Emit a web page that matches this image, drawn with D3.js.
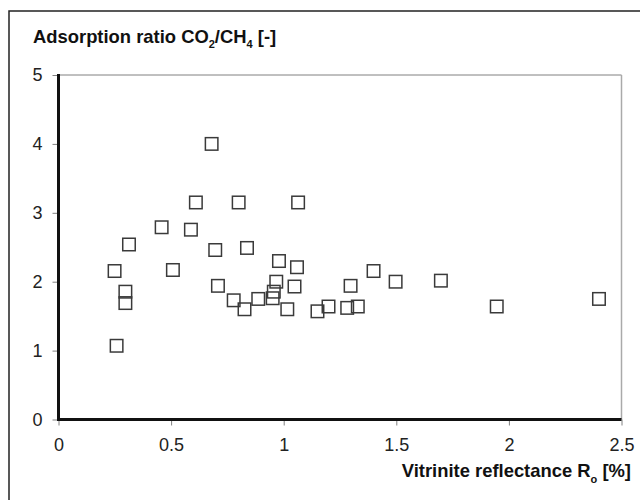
<!DOCTYPE html>
<html><head><meta charset="utf-8">
<script src="https://cdn.jsdelivr.net/npm/d3@7"></script>
<style>body{margin:0;background:#fff}svg{display:block}</style>
</head><body>
<svg id="c" width="640" height="500"></svg>
<script>
const reflectance = [0.68,0.61,0.80,1.064,0.458,0.588,0.313,0.696,0.837,0.979,1.059,0.249,0.508,0.708,0.967,1.048,0.297,0.297,0.778,0.826,0.887,0.956,0.951,1.016,1.150,1.199,0.258,1.399,1.297,1.497,1.282,1.329,1.698,1.946,2.40];
const ratio =       [4.0,3.15,3.15,3.15,2.79,2.755,2.54,2.46,2.49,2.30,2.21,2.155,2.17,1.94,2.0,1.93,1.855,1.69,1.73,1.60,1.75,1.855,1.76,1.60,1.57,1.64,1.07,2.155,1.94,2.0,1.62,1.64,2.015,1.64,1.75];
const xTicks = [0,0.5,1,1.5,2,2.5];
const yTicks = [0,1,2,3,4,5];

const svg = d3.select("#c");
const font = "'Liberation Sans', Arial, sans-serif";
const x = d3.scaleLinear().domain([0,2.5]).range([58.5,621.5]);
const y = d3.scaleLinear().domain([0,5]).range([419.5,75]);

// outer frame
svg.append("rect").attr("x",9).attr("y",11).attr("width",700).attr("height",600)
  .attr("fill","none").attr("stroke","#222").attr("stroke-width",1.5);

// plot area top/right borders
svg.append("line").attr("x1",x(0)).attr("x2",x(2.5)).attr("y1",y(5)).attr("y2",y(5)).attr("stroke","#808080").attr("stroke-width",1);
svg.append("line").attr("x1",x(2.5)).attr("x2",x(2.5)).attr("y1",y(5)).attr("y2",y(0)).attr("stroke","#aaa").attr("stroke-width",1.5);

// axes
const fmt = d3.format("");
const xAxis = svg.append("g").attr("transform",`translate(0,${y(0)})`)
  .call(d3.axisBottom(x).tickValues(xTicks).tickFormat(fmt).tickSizeOuter(0).tickSize(6).tickPadding(13));
const yAxis = svg.append("g").attr("transform",`translate(${x(0)},0)`)
  .call(d3.axisLeft(y).tickValues(yTicks).tickFormat(fmt).tickSizeOuter(0).tickSize(6).tickPadding(10));
[xAxis,yAxis].forEach(g=>{
  g.select(".domain").remove();
  g.selectAll(".tick line").attr("stroke","#808080").attr("stroke-width",1);
  g.selectAll("text").attr("font-family",font).attr("font-size",18).attr("fill","#222");
});
svg.append("line").attr("x1",x(0)).attr("x2",x(0)).attr("y1",y(5)-1).attr("y2",y(0)+1.5).attr("stroke","#111").attr("stroke-width",3);
svg.append("line").attr("x1",x(0)-1.5).attr("x2",x(2.5)).attr("y1",y(0)).attr("y2",y(0)).attr("stroke","#111").attr("stroke-width",3);

// points
const s = 12.5;
svg.append("g").selectAll("rect").data(reflectance.map((r,i)=>[r,ratio[i]])).join("rect")
  .attr("x",d=>x(d[0])-s/2).attr("y",d=>y(d[1])-s/2).attr("width",s).attr("height",s)
  .attr("fill","none").attr("stroke","#3a3a3a").attr("stroke-width",1.5);

// title
const fs = 18.4, ss = 11;
const t = svg.append("text").attr("x",33).attr("y",43).attr("font-family",font).attr("font-weight","bold").attr("font-size",fs).attr("fill","#111");
t.append("tspan").text("Adsorption ratio CO");
t.append("tspan").text("2").attr("font-size",ss).attr("dy",5);
t.append("tspan").text("/CH").attr("font-size",fs).attr("dy",-5);
t.append("tspan").text("4").attr("font-size",ss).attr("dy",5);
t.append("tspan").text(" [-]").attr("font-size",fs).attr("dy",-5);

const xl = svg.append("text").attr("x",631).attr("y",477).attr("text-anchor","end").attr("font-family",font).attr("font-weight","bold").attr("font-size",fs).attr("fill","#111");
xl.append("tspan").text("Vitrinite reflectance R");
xl.append("tspan").text("o").attr("font-size",ss).attr("dy",6);
xl.append("tspan").text(" [%]").attr("font-size",fs).attr("dy",-6);
</script>
</body></html>
